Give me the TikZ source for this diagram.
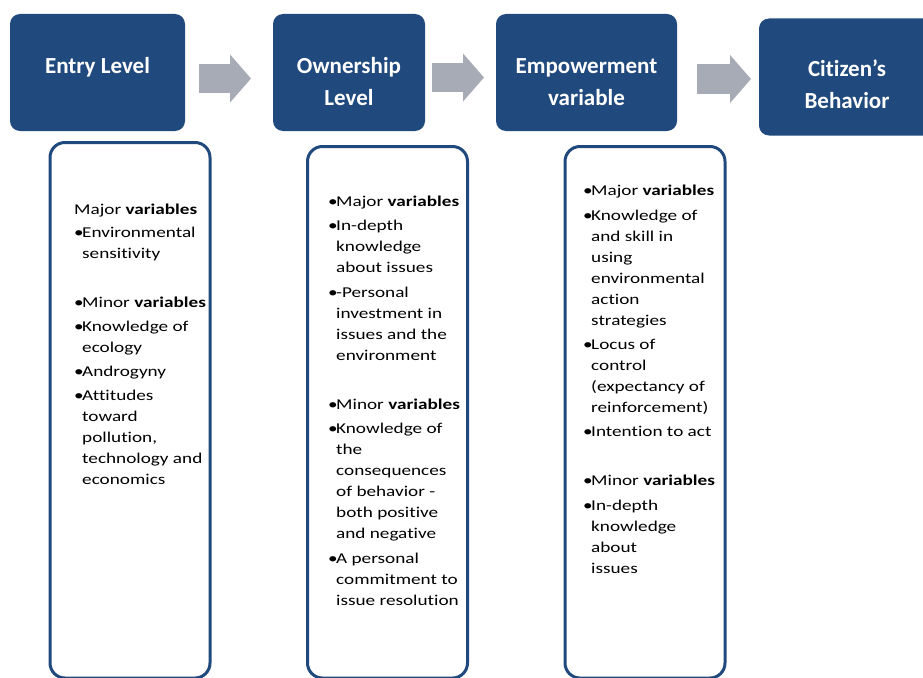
\documentclass[tikz,border=0pt]{standalone}
\usepackage{fontspec}
\setmainfont{Carlito}[Ligatures=NoCommon]
\newfontfamily\bodyfont[FakeStretch=1.28, Ligatures=NoCommon]{Carlito}
\usetikzlibrary{arrows.meta}
\definecolor{boxblue}{RGB}{32,73,125}
\definecolor{arrowgray}{RGB}{167,171,182}
\newcommand{\bul}{\makebox[8pt][l]{\textbullet}}
\newcommand{\ind}{\hspace*{8pt}}
\newcommand{\hdr}[2]{\raisebox{#1}[\height][\depth]{\begin{tabular}{@{}c@{}}#2\end{tabular}}}
\tikzset{
  topbox/.style={rectangle, rounded corners=10pt, fill=boxblue, text=white, inner sep=0pt,
    minimum height=117pt, font=\fontsize{23}{32}\selectfont\bfseries},
  listbox/.style={rectangle, rounded corners=15pt, draw=boxblue, line width=3pt, fill=white,
    inner sep=0pt, minimum width=160pt},
  listtext/.style={anchor=north west, inner sep=0pt, align=left,
    font=\bodyfont\fontsize{15}{21}\selectfont},
  blockarr/.style={arrowgray, line width=29pt, -{Triangle[length=21pt, width=47pt]}}
}
\begin{document}
\begin{tikzpicture}[x=1pt, y=-1pt]
  \useasboundingbox (0,0) rectangle (923,677);
  \clip (0,0) rectangle (923,677);

  % top row
  \node[topbox, minimum width=175pt] (entry) at (97.5,72.5) {\hdr{5.5pt}{Entry Level}};
  \node[topbox, minimum width=152pt] (owner) at (349,72.5) {\hdr{-10.5pt}{Ownership\\Level}};
  \node[topbox, minimum width=181pt] (empower) at (586.5,72.5) {\hdr{-10.5pt}{Empowerment\\variable}};
  \node[topbox, minimum width=176pt] (citizen) at (847,77) {\hdr{-9.5pt}{Citizen’s\\Behavior}};

  \coordinate (a1s) at (199,78.5);
  \coordinate (a1e) at (251,78.5);
  \coordinate (a2s) at (432,77.5);
  \coordinate (a2e) at (484,77.5);
  \coordinate (a3s) at (697,79);
  \coordinate (a3e) at (751,79);
  \draw[blockarr] (a1s) -- (a1e);
  \draw[blockarr] (a2s) -- (a2e);
  \draw[blockarr] (a3s) -- (a3e);

  % lists
  \node[listbox, minimum height=535.5pt] (entrybox) at (130,410.25) {};
  \node[listbox, minimum height=531.5pt] (ownerbox) at (387.5,412.25) {};
  \node[listbox, minimum height=531.5pt] (empowerbox) at (645,412.25) {};

  \node[listtext] (entrylist) at (74,203.5) {%
    Major \textbf{variables}\\[2pt]
    \bul Environmental\\
    \ind sensitivity\\[28pt]
    \bul Minor \textbf{variables}\\[3pt]
    \bul Knowledge of\\
    \ind ecology\\[3pt]
    \bul Androgyny\\[3pt]
    \bul Attitudes\\
    \ind toward\\
    \ind pollution,\\
    \ind technology and\\
    \ind economics};

  \node[listtext] (ownerlist) at (328,196) {%
    \bul Major \textbf{variables}\\[3pt]
    \bul In-depth\\
    \ind knowledge\\
    \ind about issues\\[4pt]
    \bul -Personal\\
    \ind investment in\\
    \ind issues and the\\
    \ind environment\\[28pt]
    \bul Minor \textbf{variables}\\[3pt]
    \bul Knowledge of\\
    \ind the\\
    \ind consequences\\
    \ind of behavior -\\
    \ind both positive\\
    \ind and negative\\[4pt]
    \bul A personal\\
    \ind commitment to\\
    \ind issue resolution};

  \node[listtext] (empowerlist) at (583,185) {%
    \bul Major \textbf{variables}\\[4pt]
    \bul Knowledge of\\
    \ind and skill in\\
    \ind using\\
    \ind environmental\\
    \ind action\\
    \ind strategies\\[3pt]
    \bul Locus of\\
    \ind control\\
    \ind (expectancy of\\
    \ind reinforcement)\\[3pt]
    \bul Intention to act\\[28pt]
    \bul Minor \textbf{variables}\\[4pt]
    \bul In-depth\\
    \ind knowledge\\
    \ind about\\
    \ind issues};
\end{tikzpicture}
\end{document}
